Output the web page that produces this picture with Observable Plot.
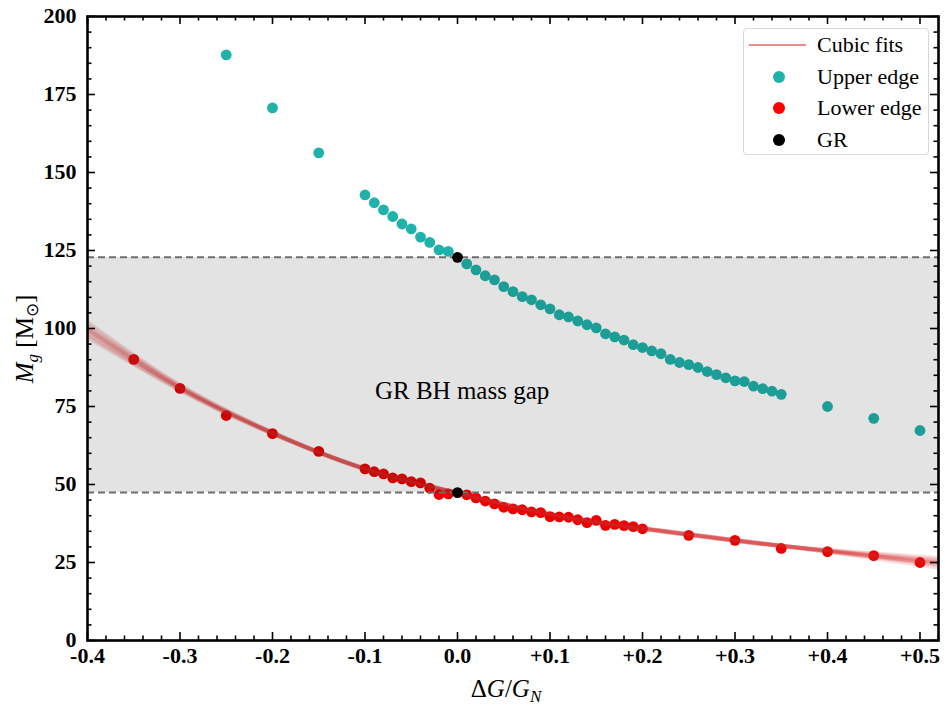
<!DOCTYPE html>
<html>
<head>
<meta charset="utf-8">
<script src="https://cdn.jsdelivr.net/npm/d3@7"></script>
<script src="https://cdn.jsdelivr.net/npm/@observablehq/plot@0.6"></script>
<style>
  body { margin: 0; background: #fff; font-family: "Liberation Serif", "Times New Roman", serif; }
  #wrap { position: relative; width: 952px; height: 714px; }
  #legend { position: absolute; left: 743px; top: 28px; width: 186px; height: 127px; box-sizing: border-box;
    border: 1px solid #d8d8d8; border-radius: 4px; background: rgba(255,255,255,0.85); font-size: 22px; color: #000; }
  #legend .row { position: absolute; left: 0; height: 30px; display: flex; align-items: center; }
  #legend .sym { width: 62px; height: 30px; position: relative; margin-left: 5px; }
  #legend .ln { position: absolute; left: 0; width: 57px; top: 14px; height: 2px; background: #ea8f8f; }
  #legend .dt { position: absolute; left: 24px; top: 9px; width: 12px; height: 12px; border-radius: 50%; }
  #legend .tx { margin-left: 6px; line-height: 30px; white-space: nowrap; }
</style>
</head>
<body>
<div id="wrap"></div>
<script>
// ---------- data ----------
const upperX = [-0.25, -0.20, -0.15,
  -0.10, -0.09, -0.08, -0.07, -0.06, -0.05, -0.04, -0.03, -0.02, -0.01,
  0.01, 0.02, 0.03, 0.04, 0.05, 0.06, 0.07, 0.08, 0.09, 0.10,
  0.11, 0.12, 0.13, 0.14, 0.15, 0.16, 0.17, 0.18, 0.19, 0.20,
  0.21, 0.22, 0.23, 0.24, 0.25, 0.26, 0.27, 0.28, 0.29, 0.30,
  0.31, 0.32, 0.33, 0.34, 0.35,
  0.40, 0.45, 0.50];
const upperM = [187.7, 170.7, 156.3,
  142.8, 140.3, 138.0, 135.9, 133.5, 131.9, 129.3, 127.6, 125.2, 124.7,
  120.7, 118.8, 116.9, 115.6, 113.4, 111.8, 110.2, 109.2, 107.6, 106.3,
  104.4, 103.7, 102.4, 101.2, 100.2, 98.3, 97.3, 96.3, 94.8, 93.9,
  92.8, 91.9, 90.1, 89.1, 88.4, 87.5, 86.2, 85.2, 84.2, 83.2,
  83.0, 81.5, 80.7, 79.9, 78.9,
  75.0, 71.2, 67.3];

const lowerX = [-0.35, -0.30, -0.25, -0.20, -0.15,
  -0.10, -0.09, -0.08, -0.07, -0.06, -0.05, -0.04, -0.03, -0.02, -0.01,
  0.01, 0.02, 0.03, 0.04, 0.05, 0.06, 0.07, 0.08, 0.09, 0.10,
  0.11, 0.12, 0.13, 0.14, 0.15, 0.16, 0.17, 0.18, 0.19, 0.20,
  0.25, 0.30, 0.35, 0.40, 0.45, 0.50];
const lowerM = [90.1, 80.8, 72.1, 66.3, 60.6,
  55.0, 54.1, 53.4, 52.1, 51.8, 50.9, 50.5, 48.8, 46.8, 47.0,
  46.7, 45.7, 44.7, 43.8, 42.7, 42.2, 41.9, 41.2, 41.0, 39.7,
  39.6, 39.5, 38.7, 37.8, 38.5, 36.9, 37.2, 36.8, 36.5, 35.8,
  33.7, 32.1, 29.5, 28.5, 27.2, 25.0];

const grX = [0.0, 0.0];
const grM = [122.8, 47.4];

// cubic-fit curves (bootstrap spread)
const fitX = [-0.40, -0.30, -0.20, -0.10, 0.00, 0.10, 0.20, 0.30, 0.40, 0.52];
const fit1 = [99.5, 81.0, 66.5, 55.0, 47.3, 40.4, 35.9, 32.1, 28.8, 25.0];
const fit2 = [98.0, 80.4, 66.3, 55.1, 47.3, 40.5, 35.8, 32.0, 28.9, 25.8];
const fit3 = [101.0, 81.6, 66.7, 54.9, 47.2, 40.3, 36.0, 32.2, 28.6, 24.2];
const fit4 = [100.2, 81.2, 66.4, 54.8, 47.4, 40.6, 36.1, 32.0, 28.5, 24.6];
const fit5 = [97.2, 80.2, 66.2, 55.2, 47.4, 40.4, 35.7, 31.9, 29.0, 26.4];
const fit6 = [102.0, 81.9, 66.8, 55.0, 47.1, 40.2, 35.9, 32.3, 28.4, 23.4];
const fit7 = [98.8, 80.7, 66.4, 55.0, 47.3, 40.5, 35.9, 32.1, 28.7, 25.4];
const fit8 = [99.9, 81.1, 66.6, 55.1, 47.2, 40.4, 35.8, 32.0, 28.8, 24.8];

const xTicks = [-0.4, -0.3, -0.2, -0.1, 0.0, 0.1, 0.2, 0.3, 0.4, 0.5];
const xTickLabels = ["-0.4", "-0.3", "-0.2", "-0.1", "0.0", "+0.1", "+0.2", "+0.3", "+0.4", "+0.5"];
const yTicks = [0, 25, 50, 75, 100, 125, 150, 175, 200];
const yTickLabels = ["0", "25", "50", "75", "100", "125", "150", "175", "200"];

const annotX = [0.005];
const annotY = [80];
const annotText = ["GR BH mass gap"];

const xDomain = [-0.4, 0.52];
const yDomain = [0, 200];

// ---------- build ----------
const SERIF = "Liberation Serif";
const W = 952, H = 714, mL = 87, mR = 14, mT = 16, mB = 74;
const fh = H - mT - mB, fw = W - mL - mR;

const upper = upperX.map((x, i) => ({x, m: upperM[i]}));
const lower = lowerX.map((x, i) => ({x, m: lowerM[i]}));
const gr = grX.map((x, i) => ({x, m: grM[i]}));
const fits = [fit1, fit2, fit3, fit4, fit5, fit6, fit7, fit8]
  .flatMap((f, k) => fitX.map((x, i) => ({fit: k, x, m: f[i]})));
const annot = annotX.map((x, i) => ({x, m: annotY[i], t: annotText[i]}));
const xLabRows = xTicks.map((t, i) => ({t, s: xTickLabels[i]}));
const yLabRows = yTicks.map((t, i) => ({t, s: yTickLabels[i]}));

const xMinor = d3.range(-0.40, 0.5201, 0.02).filter(v => !xTicks.some(t => Math.abs(t - v) < 1e-6));
const yMinor = d3.range(0, 200.01, 5).filter(v => v % 25 !== 0);

const tickStroke = {stroke: "#000", strokeWidth: 1.6};
const MAJ = 8, MIN = 4.5;

const chart = Plot.plot({
  width: W, height: H,
  marginLeft: mL, marginRight: mR, marginTop: mT, marginBottom: mB,
  style: {fontFamily: SERIF, background: "#fff", color: "#000"},
  x: {domain: xDomain, axis: null},
  y: {domain: yDomain, axis: null},
  marks: [
    Plot.dot(upper, {x: "x", y: "m", r: 5.4, fill: "#20b2aa", stroke: "none"}),
    Plot.dot(lower, {x: "x", y: "m", r: 5.4, fill: "#ee0000", stroke: "none"}),
    Plot.line(fits, {x: "x", y: "m", z: "fit", stroke: "#d62728", strokeOpacity: 0.16, strokeWidth: 4, curve: "natural", clip: true}),
    Plot.rect([0], {x1: () => xDomain[0], x2: () => xDomain[1], y1: () => grM[1], y2: () => grM[0], fill: "#000", fillOpacity: 0.11}),
    Plot.ruleY([grM[0], grM[1]], {stroke: "#6e6e6e", strokeWidth: 2, strokeDasharray: "7,4"}),
    Plot.dot(gr, {x: "x", y: "m", r: 5.4, fill: "#000", stroke: "none"}),
    Plot.text(annot, {x: "x", y: "m", text: "t", fontSize: 25, fill: "#000", fontFamily: SERIF}),
    // ticks (inward, on all four sides)
    Plot.ruleX(xTicks, {insetTop: fh - MAJ, ...tickStroke}),
    Plot.ruleX(xTicks, {insetBottom: fh - MAJ, ...tickStroke}),
    Plot.ruleX(xMinor, {insetTop: fh - MIN, ...tickStroke}),
    Plot.ruleX(xMinor, {insetBottom: fh - MIN, ...tickStroke}),
    Plot.ruleY(yTicks, {insetRight: fw - MAJ, ...tickStroke}),
    Plot.ruleY(yTicks, {insetLeft: fw - MAJ, ...tickStroke}),
    Plot.ruleY(yMinor, {insetRight: fw - MIN, ...tickStroke}),
    Plot.ruleY(yMinor, {insetLeft: fw - MIN, ...tickStroke}),
    Plot.frame({stroke: "#000", strokeWidth: 2.6}),
    // tick labels
    Plot.text(xLabRows, {x: "t", text: "s", frameAnchor: "bottom", lineAnchor: "top", dy: 7,
      fontSize: 22, fontWeight: "bold", fontFamily: SERIF, fill: "#000"}),
    Plot.text(yLabRows, {y: "t", text: "s", frameAnchor: "left", textAnchor: "end", dx: -11, dy: -1,
      fontSize: 22, fontWeight: "bold", fontFamily: SERIF, fill: "#000"})
  ]
});

document.getElementById("wrap").appendChild(chart);

const svg = d3.select(chart);
// axis titles with math-like subscripts
const xt = svg.append("text")
  .attr("x", 506).attr("y", 697)
  .attr("text-anchor", "middle")
  .attr("font-family", SERIF)
  .attr("font-size", 25)
  .attr("fill", "#000");
xt.append("tspan").text("Δ");
xt.append("tspan").attr("font-style", "italic").text("G");
xt.append("tspan").text("/");
xt.append("tspan").attr("font-style", "italic").text("G");
xt.append("tspan").attr("font-style", "italic").attr("font-size", 17).attr("dy", 5).text("N");

const yt = svg.append("text")
  .attr("transform", "translate(33,339) rotate(-90)")
  .attr("text-anchor", "middle")
  .attr("font-family", SERIF)
  .attr("font-size", 25)
  .attr("fill", "#000");
yt.append("tspan").attr("font-style", "italic").text("M");
yt.append("tspan").attr("font-style", "italic").attr("font-size", 17).attr("dy", 5).text("g");
yt.append("tspan").attr("dy", -5).text(" [M");
yt.append("tspan").attr("font-size", 17).attr("dy", 5).text("⊙");
yt.append("tspan").attr("dy", -5).text("]");

// legend
const legendItems = [
  {label: "Cubic fits", kind: "line", color: "#ea8f8f"},
  {label: "Upper edge", kind: "dot", color: "#20b2aa"},
  {label: "Lower edge", kind: "dot", color: "#ff0000"},
  {label: "GR", kind: "dot", color: "#000000"}
];
const lg = document.createElement("div");
lg.id = "legend";
legendItems.forEach((it, i) => {
  const row = document.createElement("div");
  row.className = "row";
  row.style.top = (1 + i * 31.7) + "px";
  const sym = document.createElement("span");
  sym.className = "sym";
  const s = document.createElement("span");
  s.className = it.kind === "line" ? "ln" : "dt";
  s.style.background = it.color;
  sym.appendChild(s);
  const tx = document.createElement("span");
  tx.className = "tx";
  tx.textContent = it.label;
  row.appendChild(sym);
  row.appendChild(tx);
  lg.appendChild(row);
});
document.getElementById("wrap").appendChild(lg);
</script>
</body>
</html>
